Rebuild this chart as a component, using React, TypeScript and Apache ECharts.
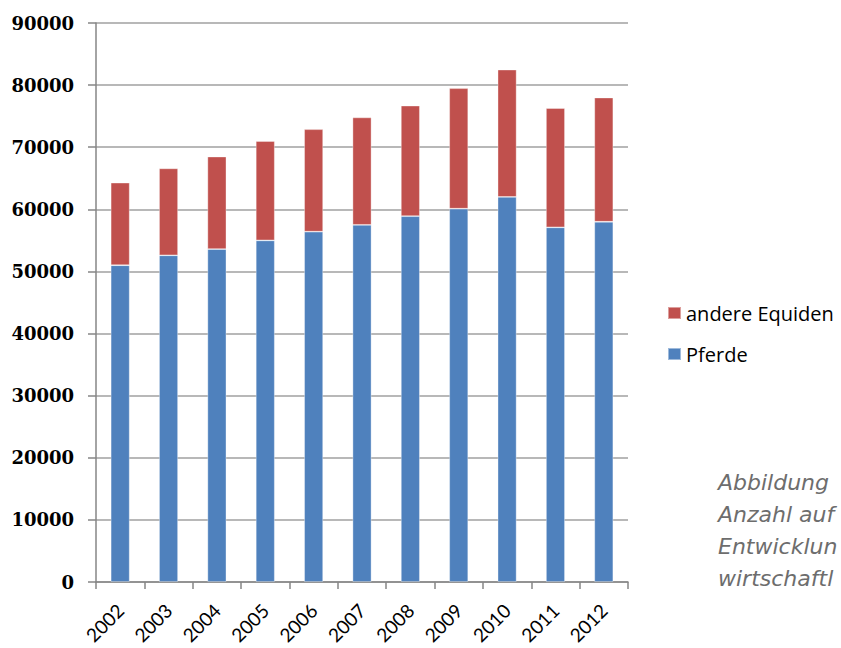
import React, { useEffect, useRef } from "react";
import * as echarts from "echarts";

const years = ["2002", "2003", "2004", "2005", "2006", "2007", "2008", "2009", "2010", "2011", "2012"];
const pferde = [51000, 52600, 53600, 55000, 56400, 57500, 58900, 60100, 62000, 57100, 58000];
const andereEquiden = [13300, 14000, 14900, 16000, 16500, 17300, 17800, 19400, 20500, 19200, 20000];
const yTicks = { min: 0, max: 90000, interval: 10000 };
const captionLines = ["Abbildung", "Anzahl auf", "Entwicklun", "wirtschaftl"];

export default function App() {
  const ref = useRef<HTMLDivElement>(null);

  useEffect(() => {
    document.body.style.margin = "0";
    if (!ref.current) return;
    const chart = echarts.init(ref.current, null, { renderer: "svg" });
    const axisGray = "#868686";
    chart.setOption({
      animation: false,
      backgroundColor: "#ffffff",
      grid: { left: 96, right: 213, top: 23, bottom: 66, containLabel: false },
      legend: {
        orient: "vertical",
        left: 662,
        top: 298,
        itemWidth: 13,
        itemHeight: 12,
        itemGap: 21,
        icon: "rect",
        data: ["andere Equiden", "Pferde"],
        textStyle: { fontFamily: "Open Sans", fontSize: 20, color: "#000", lineHeight: 20 },
      },
      xAxis: {
        type: "category",
        data: years,
        boundaryGap: true,
        axisLine: { lineStyle: { color: axisGray, width: 1.5 } },
        axisTick: { show: true, length: 7, lineStyle: { color: axisGray, width: 1.5 } },
        axisLabel: {
          rotate: 45,
          margin: 25,
          fontFamily: "Lato",
          fontSize: 19,
          color: "#000",
          interval: 0,
        },
      },
      yAxis: {
        type: "value",
        min: yTicks.min,
        max: yTicks.max,
        interval: yTicks.interval,
        axisLine: { show: true, lineStyle: { color: axisGray, width: 1.5 } },
        axisTick: { show: true, length: 8, lineStyle: { color: axisGray, width: 1.5 } },
        splitLine: { show: true, lineStyle: { color: "#a0a0a0", width: 1.5 } },
        axisLabel: {
          margin: 22,
          fontFamily: "DejaVu Serif",
          fontWeight: "bold",
          fontSize: 18,
          color: "#000",
          formatter: (v: number) => String(v),
        },
      },
      series: [
        {
          name: "Pferde",
          type: "bar",
          stack: "total",
          data: pferde,
          barWidth: 19,
          itemStyle: { color: "#4F81BD", borderColor: "rgba(255,255,255,0.45)", borderWidth: 0.8 },
        },
        {
          name: "andere Equiden",
          type: "bar",
          stack: "total",
          data: andereEquiden,
          barWidth: 19,
          itemStyle: { color: "#C0504D", borderColor: "rgba(255,255,255,0.45)", borderWidth: 0.8 },
        },
      ],
      graphic: captionLines.map((line, i) => ({
        type: "text",
        left: 718,
        top: 471 + i * 32,
        style: {
          text: line,
          fontFamily: "DejaVu Sans",
          fontStyle: "italic",
          fontSize: 22,
          fill: "#6d6d6d",
        },
      })),
    });
    return () => chart.dispose();
  }, []);

  return <div ref={ref} style={{ width: 841, height: 648 }} />;
}
